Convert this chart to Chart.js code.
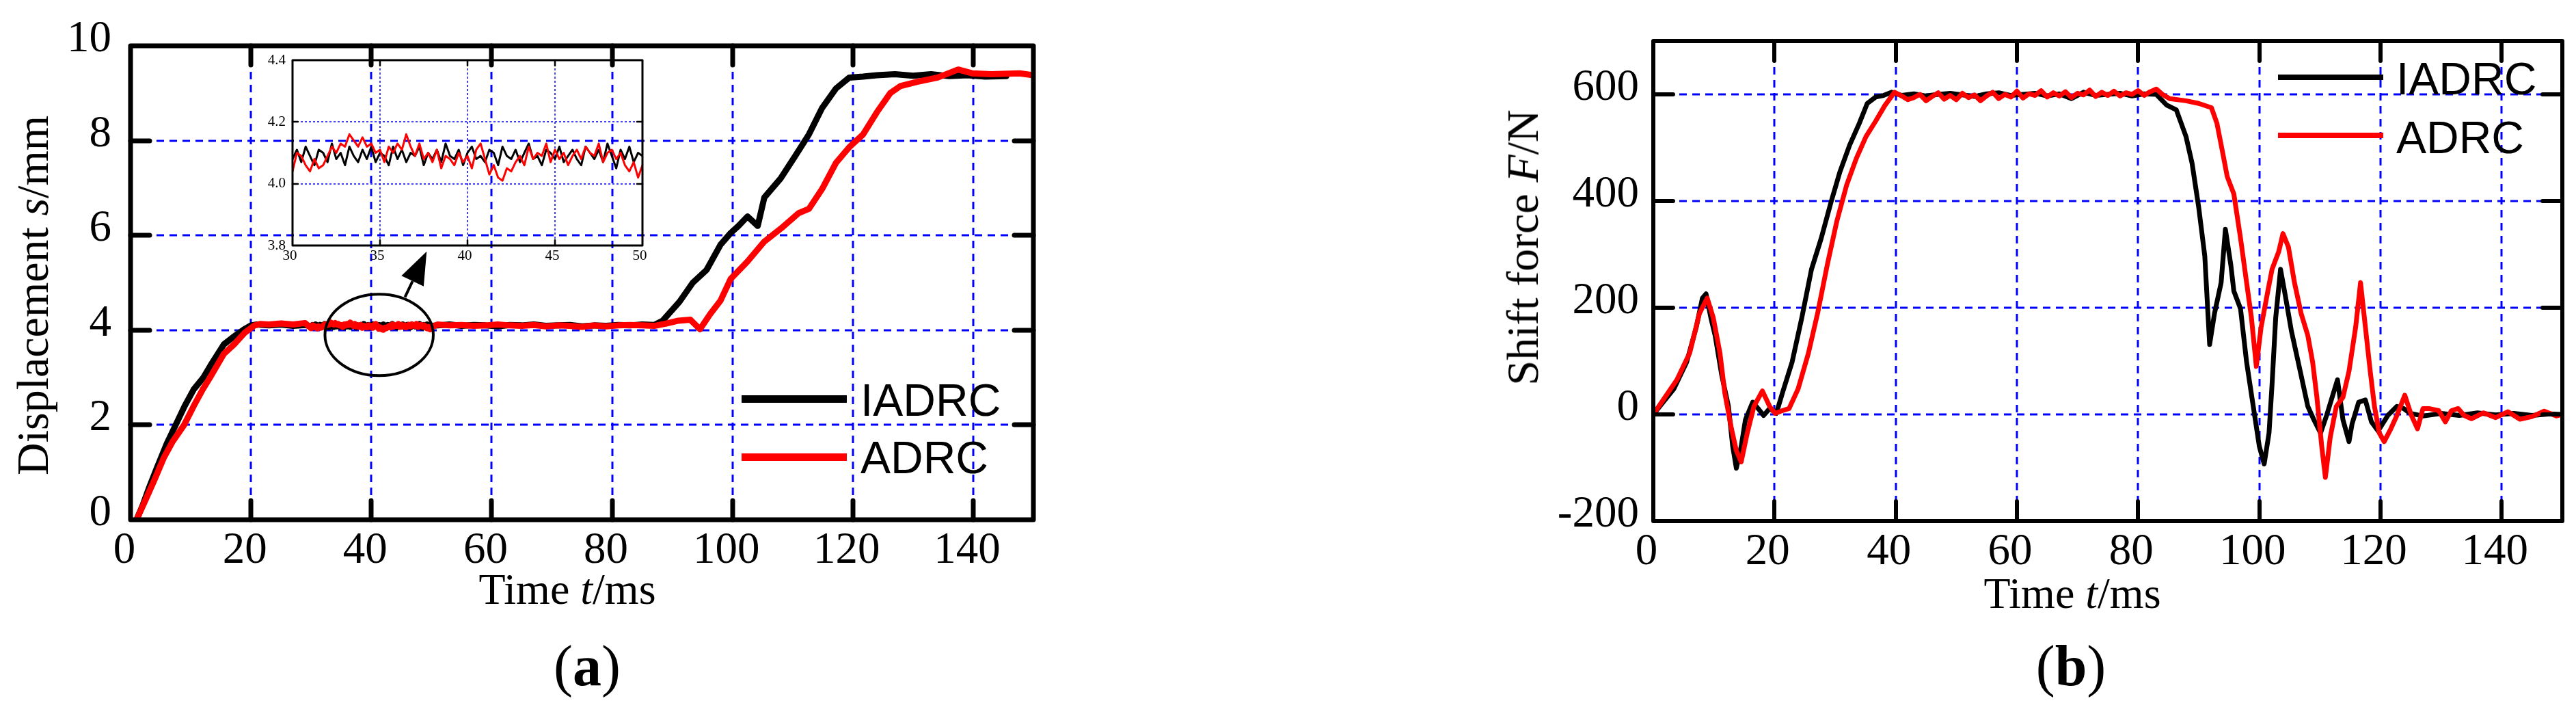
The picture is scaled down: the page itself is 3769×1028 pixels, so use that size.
<!DOCTYPE html>
<html><head><meta charset="utf-8">
<script src="https://cdn.jsdelivr.net/npm/chart.js@4.4.1/dist/chart.umd.min.js"></script>
<style>
html,body{margin:0;padding:0;background:#fff;}
body{width:3769px;height:1028px;position:relative;overflow:hidden;font-family:"Liberation Serif","Times New Roman",serif;color:#000;}
canvas{position:absolute;}
.t{position:absolute;white-space:nowrap;line-height:1;transform:translate(-50%,-50%);}
.ty{position:absolute;white-space:nowrap;line-height:1;transform:translate(-50%,-50%) rotate(-90deg);}
.leg{position:absolute;white-space:nowrap;line-height:1;font-family:"Liberation Sans",Arial,sans-serif;transform:translateY(-50%);}
.bar{position:absolute;}
</style></head><body>
<canvas id="ca" width="1560" height="1028" style="left:0;top:0"></canvas>
<canvas id="ci" width="580" height="340" style="left:378px;top:60px"></canvas>
<canvas id="cb" width="1569" height="1028" style="left:2200px;top:0"></canvas>

<div class="ty" style="left:48px;top:432px;font-size:66px">Displacement <i>s</i>/mm</div>
<div class="t" style="left:830px;top:862px;font-size:64px">Time <i>t</i>/ms</div>
<div class="t" style="left:859px;top:974px;font-size:84px">(<b>a</b>)</div>
<div class="ty" style="left:2228px;top:362px;font-size:66px">Shift force <i>F</i>/N</div>
<div class="t" style="left:3032px;top:868px;font-size:64px">Time <i>t</i>/ms</div>
<div class="t" style="left:3030px;top:974px;font-size:84px">(<b>b</b>)</div>

<div class="bar" style="left:1085px;top:578px;width:154px;height:11px;background:#000"></div>
<div class="leg" style="left:1259px;top:585px;font-size:66px">IADRC</div>
<div class="bar" style="left:1085px;top:663px;width:154px;height:11px;background:#f00"></div>
<div class="leg" style="left:1259px;top:669px;font-size:66px">ADRC</div>

<div class="bar" style="left:3333px;top:109px;width:154px;height:8px;background:#000"></div>
<div class="leg" style="left:3506px;top:115px;font-size:66px">IADRC</div>
<div class="bar" style="left:3333px;top:194px;width:154px;height:8px;background:#f00"></div>
<div class="leg" style="left:3506px;top:201px;font-size:66px">ADRC</div>

<script>
// ---------------- DATA (a) Displacement s/mm vs t/ms ----------------
const seriesNames = ['IADRC', 'ADRC'];

const aIadrcRiseT = [1,2,3,4.4,6,7.5,9,10.5,12.1,13.5,15.5,17,18.9,20,21,23,25,27,29];
const aIadrcRiseV = [0,0.3,0.65,1.1,1.6,2.0,2.4,2.75,3.0,3.3,3.7,3.85,4.02,4.1,4.12,4.10,4.12,4.09,4.11];
const aIadrcFlatT = [51,53,55,57,59,61,63,65,67,69,71,73,75,77,79,81,83,85,87];
const aIadrcFlatV = [4.1,4.12,4.09,4.11,4.1,4.08,4.11,4.1,4.12,4.09,4.1,4.11,4.08,4.1,4.09,4.11,4.1,4.12,4.11];
const aIadrcRise2T = [88.4,91.2,93.4,95.7,98,99.7,101,102.5,104.2,105.3,108,110.4,112.7,114.9,117.2,119.4,121.7,124,127,130,133,136,139,142,145.5];
const aIadrcRise2V = [4.2,4.6,5.0,5.27,5.8,6.05,6.2,6.4,6.2,6.8,7.2,7.67,8.13,8.69,9.1,9.33,9.35,9.38,9.4,9.37,9.4,9.36,9.38,9.35,9.36];

const aAdrcRiseT = [1,2.5,4,5.5,7,8.9,10.5,12,13.2,15.5,17.2,19,20.6,21.5,23,25,27,29];
const aAdrcRiseV = [0,0.42,0.85,1.3,1.65,2.0,2.4,2.75,3.0,3.5,3.7,3.95,4.1,4.13,4.12,4.14,4.12,4.15];
const aAdrcFlatT = [51,53,55,57,59,61,63,65,67,69,71,73,75,77,79,81,83,85,87,89,91,93,94.6];
const aAdrcFlatV = [4.12,4.1,4.11,4.09,4.1,4.12,4.1,4.09,4.11,4.08,4.1,4.09,4.07,4.1,4.08,4.1,4.11,4.1,4.09,4.14,4.2,4.22,4.02];
const aAdrcRise2T = [96.3,98,99.7,102.5,105.3,108.1,111,112.7,114.9,117.2,119.4,121.7,124,126.2,127.9,130.7,134.1,137.5,139.8,143,147.7,150];
const aAdrcRise2V = [4.34,4.62,5.08,5.45,5.87,6.15,6.47,6.56,6.98,7.53,7.86,8.13,8.6,9.0,9.15,9.24,9.33,9.5,9.42,9.4,9.42,9.38];

// zoomed window 30..50 ms, sampled every 0.25 ms
const insetStart = 30, insetStep = 0.25;
const insetIadrcV = [4.08,
 4.11,4.07,4.12,4.09, 4.06,4.11,4.10,4.07, 4.13,4.08,4.10,4.06, 4.12,4.09,4.07,4.11,
 4.08,4.12,4.07,4.10, 4.09,4.06,4.12,4.08, 4.11,4.07,4.10,4.09, 4.12,4.06,4.10,4.08,
 4.11,4.07,4.13,4.09, 4.08,4.11,4.06,4.10, 4.12,4.08,4.09,4.07, 4.11,4.10,4.06,4.12,
 4.09,4.08,4.11,4.07, 4.10,4.13,4.08,4.09, 4.06,4.11,4.10,4.08, 4.12,4.07,4.09,4.11,
 4.08,4.06,4.12,4.10, 4.08,4.11,4.07,4.13, 4.09,4.05,4.11,4.08, 4.12,4.07,4.10,4.09];
const insetAdrcV = [4.04,
 4.10,4.09,4.06,4.04, 4.08,4.05,4.06,4.09, 4.12,4.10,4.13,4.12, 4.16,4.14,4.12,4.15,
 4.12,4.13,4.10,4.11, 4.07,4.12,4.10,4.13, 4.11,4.16,4.12,4.09, 4.13,4.08,4.10,4.07,
 4.11,4.05,4.09,4.08, 4.06,4.10,4.07,4.09, 4.05,4.11,4.13,4.08, 4.03,4.06,4.02,4.01,
 4.05,4.04,4.07,4.09, 4.06,4.12,4.08,4.10, 4.09,4.13,4.07,4.11, 4.08,4.10,4.06,4.09,
 4.11,4.08,4.12,4.10, 4.09,4.13,4.07,4.10, 4.11,4.08,4.10,4.06, 4.04,4.07,4.02,4.06];

// ---------------- DATA (b) Shift force F/N vs t/ms ----------------
const bIadrcRiseT = [0,3.4,5.5,7.1,8.1,8.7,9.5,10.2,11.3,12.4,13.1,13.7,14.5,15.2,16.4,17.3,18.2,19.2,20.3,21.3,22.9,24.5,26.1,27.7,29.3,30.8,32.4,34,35.3,36.7,38,39.3];
const bIadrcRiseV = [0,48,98,164,218,226,181,148,73,15,-60,-101,-60,-10,23,11,-2,11,2,40,98,181,272,330,397,455,505,546,583,595,598,604];
const bIadrcFlatT = [41,43,45,47,49,51,53,55,57,59,61,63,65,67,69,71,73,75,77,79,81,83];
const bIadrcFlatV = [598,601,597,600,602,599,596,601,603,598,600,602,597,601,592,604,598,600,602,597,601,600];
const bIadrcFallT = [84.7,86.3,87.9,88.9,90,91,91.8,92.6,93.7,94.4,95.3,95.8,96.9,97.9,99,100,100.8,101.6,102.1,102.7,103.5,104.3,105.3,106.9,108,109,110.1,111.1,112.9,113.8,114.8,115.3,116.4,117.5,118.5,119.6,121.2,122.7,123.8,124.9,127,130,133,136,139,142,145,148,150];
const bIadrcFallV = [580,571,521,471,388,297,131,189,247,347,280,231,198,98,15,-60,-93,-35,56,181,272,222,156,73,15,-10,-35,-2,65,-10,-51,-18,23,27,-14,-31,-2,15,11,2,-3,2,-2,3,-1,2,-2,1,0];

const bAdrcRiseT = [0,3.9,6,7.6,8.9,9.9,11,11.8,12.9,13.7,14.5,15.5,16.6,18,19.2,20.1,21.3,22.4,23.9,25.6,27.1,28.7,30.3,31.9,33.5,35.1,36.7,38.2,39.8];
const bAdrcRiseV = [0,65,115,189,218,181,115,40,-27,-68,-89,-35,15,44,15,2,7,11,48,115,189,280,363,430,480,521,550,579,604];
const bAdrcFlatT = [41,42,43,44,45,46,47,48,49,50,51,52,53,54,55,56,57,58,59,60,61,62,63,64,65,66,67,68,69,70,71,72,73,74,75,76,77,78,79,80,81,82,83,84];
const bAdrcFlatV = [597,590,594,600,588,596,603,591,598,590,602,594,599,588,597,604,592,600,595,606,593,601,598,607,595,603,597,605,594,602,599,608,596,604,598,606,597,603,600,607,598,605,610,600];
const bAdrcFallT = [85.2,87.9,90,92.1,93,94,94.7,95.8,96.9,97.9,98.7,99.5,100.3,101.4,102.1,103.2,103.9,104.8,105.8,106.9,108,108.8,109.5,110.3,110.9,111.7,112.7,113.8,114.8,115.9,116.7,117.5,118.3,119,119.8,120.6,121.7,122.7,124,125.1,126.1,127,128,129.6,130.7,131.7,132.8,133.8,135,137,139,141,143,145,147,149,150];
const bAdrcFallV = [592,588,583,575,546,488,446,413,330,247,181,90,164,231,272,305,339,314,247,189,148,98,32,-60,-118,-43,15,32,81,164,247,164,81,15,-35,-51,-27,-2,36,-2,-27,11,11,7,-14,7,11,-2,-8,3,-6,5,-9,-4,6,-3,0];

// annotation (data units of chart a): zoom ellipse and arrow toward inset
const zoomEllipse = {t: 41.3, v: 3.9, rt: 9.0, rv: 0.86};
const zoomArrow = {t0: 45.6, v0: 4.7, t1: 49.2, v1: 5.66};

// ---------------- helpers ----------------
const zip = (T, V) => T.map((t, i) => ({x: t, y: V[i]}));
const insetT = insetIadrcV.map((_, i) => insetStart + i * insetStep);
const BLACK = '#000000', RED = '#ff0000', BLUE = '#0000ff';
Chart.defaults.font.family = "'Liberation Serif','Times New Roman',serif";
Chart.defaults.color = '#000';

function framePlugin(o) {
  return {
    id: 'frame',
    beforeDatasetsDraw(chart) {
      const {ctx, chartArea: a, scales: {x, y}} = chart;
      ctx.save();
      ctx.strokeStyle = BLUE; ctx.lineWidth = o.gridWidth; ctx.setLineDash(o.gridDash);
      x.ticks.forEach(tk => { if (tk.value <= x.min || tk.value >= x.max) return;
        const p = Math.round(x.getPixelForValue(tk.value));
        ctx.beginPath(); ctx.moveTo(p, a.top); ctx.lineTo(p, a.bottom); ctx.stroke(); });
      y.ticks.forEach(tk => { if (tk.value <= y.min || tk.value >= y.max) return;
        const p = Math.round(y.getPixelForValue(tk.value));
        ctx.beginPath(); ctx.moveTo(a.left, p); ctx.lineTo(a.right, p); ctx.stroke(); });
      ctx.restore();
    },
    afterDatasetsDraw(chart) {
      const {ctx, chartArea: a, scales: {x, y}} = chart;
      ctx.save();
      ctx.strokeStyle = BLACK; ctx.setLineDash([]);
      ctx.lineWidth = o.tickWidth; ctx.lineCap = 'round';
      x.ticks.forEach(tk => { if (tk.value <= x.min || tk.value >= x.max) return;
        const p = Math.round(x.getPixelForValue(tk.value));
        ctx.beginPath(); ctx.moveTo(p, a.bottom); ctx.lineTo(p, a.bottom - o.tickLen);
        ctx.moveTo(p, a.top); ctx.lineTo(p, a.top + o.tickLen); ctx.stroke(); });
      y.ticks.forEach(tk => { if (tk.value <= y.min || tk.value >= y.max) return;
        const p = Math.round(y.getPixelForValue(tk.value));
        ctx.beginPath(); ctx.moveTo(a.left, p); ctx.lineTo(a.left + o.tickLen, p);
        ctx.moveTo(a.right, p); ctx.lineTo(a.right - o.tickLen, p); ctx.stroke(); });
      ctx.lineWidth = o.borderWidth; ctx.lineJoin = 'round';
      ctx.strokeRect(a.left, a.top, a.right - a.left, a.bottom - a.top);
      if (o.extra) o.extra(chart);
      ctx.restore();
    }
  };
}

function drawZoomMark(chart) {
  const {ctx, scales: {x, y}} = chart;
  const cx = x.getPixelForValue(zoomEllipse.t), cy = y.getPixelForValue(zoomEllipse.v);
  const rx = Math.abs(x.getPixelForValue(zoomEllipse.t + zoomEllipse.rt) - cx);
  const ry = Math.abs(y.getPixelForValue(zoomEllipse.v + zoomEllipse.rv) - cy);
  ctx.lineWidth = 4; ctx.strokeStyle = BLACK;
  ctx.beginPath(); ctx.ellipse(cx, cy, rx, ry, 0, 0, Math.PI * 2); ctx.stroke();
  const x0 = x.getPixelForValue(zoomArrow.t0), y0 = y.getPixelForValue(zoomArrow.v0);
  const x1 = x.getPixelForValue(zoomArrow.t1), y1 = y.getPixelForValue(zoomArrow.v1);
  const ang = Math.atan2(y1 - y0, x1 - x0), L = 48, W = 18;
  const bx = x1 - L * Math.cos(ang), by = y1 - L * Math.sin(ang);
  ctx.lineCap = 'butt';
  ctx.beginPath(); ctx.moveTo(x0, y0); ctx.lineTo(bx, by); ctx.stroke();
  ctx.fillStyle = BLACK;
  ctx.beginPath(); ctx.moveTo(x1, y1);
  ctx.lineTo(bx + W * Math.sin(ang), by - W * Math.cos(ang));
  ctx.lineTo(bx - W * Math.sin(ang), by + W * Math.cos(ang));
  ctx.closePath(); ctx.fill();
}

function axisCfg(o) {
  return {
    type: 'linear', min: o.min, max: o.max,
    ticks: {stepSize: o.step, includeBounds: false, autoSkip: false, maxRotation: 0,
      font: {size: o.fs}, color: '#000', padding: o.pad, labelOffset: o.off,
      callback: o.cb},
    grid: {display: false, drawTicks: false}, border: {display: false},
    afterFit: o.fit
  };
}

function baseOptions(pad) {
  return {
    responsive: false, animation: false, events: [],
    layout: {padding: pad},
    plugins: {legend: {display: false}, tooltip: {enabled: false}},
    elements: {point: {radius: 0}, line: {tension: 0, borderJoinStyle: 'round', borderCapStyle: 'round'}}
  };
}

// ---------------- chart (a) ----------------
const optA = baseOptions({top: 53, right: 48, left: 0, bottom: 0});
optA.scales = {
  x: axisCfg({min: 0, max: 150, step: 20, fs: 65, pad: 7, off: -9, fit: s => { s.height = 268; }}),
  y: axisCfg({min: 0, max: 10, step: 2, fs: 65, pad: 28, off: -9, fit: s => { s.width = 191; }})
};
new Chart(document.getElementById('ca'), {
  type: 'line',
  data: {datasets: [
    {label: seriesNames[0], borderColor: BLACK, borderWidth: 9, order: 2,
     data: [...zip(aIadrcRiseT, aIadrcRiseV), ...zip(insetT, insetIadrcV), ...zip(aIadrcFlatT, aIadrcFlatV), ...zip(aIadrcRise2T, aIadrcRise2V)]},
    {label: seriesNames[1], borderColor: RED, borderWidth: 9, order: 1,
     data: [...zip(aAdrcRiseT, aAdrcRiseV), ...zip(insetT, insetAdrcV), ...zip(aAdrcFlatT, aAdrcFlatV), ...zip(aAdrcRise2T, aAdrcRise2V)]}
  ]},
  options: optA,
  plugins: [framePlugin({gridWidth: 3, gridDash: [11, 8], tickWidth: 7, tickLen: 28, borderWidth: 7, extra: drawZoomMark})]
});

// ---------------- inset of (a) ----------------
const optI = baseOptions({top: 28, right: 18, left: 0, bottom: 0});
optI.scales = {
  x: axisCfg({min: 30, max: 50, step: 5, fs: 21, pad: 3, off: -4, fit: s => { s.height = 41; }}),
  y: axisCfg({min: 3.8, max: 4.4, step: 0.2, fs: 21, pad: 10, off: 0, cb: v => Number(v).toFixed(1), fit: s => { s.width = 50; }})
};
new Chart(document.getElementById('ci'), {
  type: 'line',
  data: {datasets: [
    {label: seriesNames[0], borderColor: BLACK, borderWidth: 3, order: 2, data: zip(insetT, insetIadrcV)},
    {label: seriesNames[1], borderColor: RED, borderWidth: 3, order: 1, data: zip(insetT, insetAdrcV)}
  ]},
  options: optI,
  plugins: [framePlugin({gridWidth: 1.5, gridDash: [3, 3], tickWidth: 2.5, tickLen: 8, borderWidth: 3})]
});

// ---------------- chart (b) ----------------
const optB = baseOptions({top: 51, right: 20, left: 0, bottom: 0});
optB.scales = {
  x: axisCfg({min: 0, max: 150, step: 20, fs: 65, pad: 7, off: -10, fit: s => { s.height = 266; }}),
  y: axisCfg({min: -200, max: 700, step: 200, fs: 65, pad: 21, off: -9, fit: s => { s.width = 219; }})
};
new Chart(document.getElementById('cb'), {
  type: 'line',
  data: {datasets: [
    {label: seriesNames[0], borderColor: BLACK, borderWidth: 7, order: 2,
     data: [...zip(bIadrcRiseT, bIadrcRiseV), ...zip(bIadrcFlatT, bIadrcFlatV), ...zip(bIadrcFallT, bIadrcFallV)]},
    {label: seriesNames[1], borderColor: RED, borderWidth: 7, order: 1,
     data: [...zip(bAdrcRiseT, bAdrcRiseV), ...zip(bAdrcFlatT, bAdrcFlatV), ...zip(bAdrcFallT, bAdrcFallV)]}
  ]},
  options: optB,
  plugins: [framePlugin({gridWidth: 3, gridDash: [11, 8], tickWidth: 6, tickLen: 29, borderWidth: 6})]
});
</script>
</body></html>
